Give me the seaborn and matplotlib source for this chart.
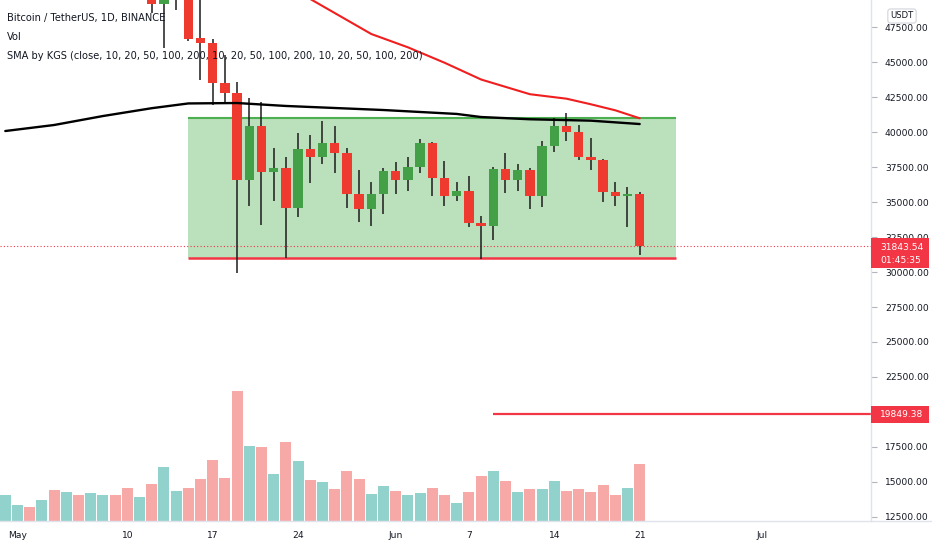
import pandas as pd
import seaborn as sns
import matplotlib.pyplot as plt
import numpy as np
from matplotlib import font_manager
from matplotlib.patches import Rectangle
from matplotlib.lines import Line2D

# daily candles, BTC/USDT (values above the view are estimates)
dates = pd.date_range("2021-04-30", "2021-06-21", freq="D")

opens = [53570, 57690, 57830, 56580, 57170, 53200, 57440, 56390, 57310, 58860,
         58240, 55820, 56670, 49150, 49720, 49880, 46700, 46360, 43500, 42790,
         36570, 40450, 37140, 37410, 34590, 38760, 38240, 39240, 38480, 35570,
         34480, 35570, 37210, 36570, 37480, 39240, 36740, 35430, 35810, 33480,
         33310, 37360, 36570, 37290, 35430, 39000, 40450, 40020, 38240, 38000,
         35740, 35430, 35550]
highs = [58000, 58450, 57950, 58950, 57200, 57960, 58360, 58650, 59500, 59300,
         59600, 56900, 58000, 51370, 51540, 50700, 49850, 46640, 45500, 43590,
         42430, 42140, 38860, 38190, 39930, 39790, 40790, 40430, 38880, 37290,
         36450, 37450, 37880, 38240, 39480, 39300, 37930, 36450, 36860, 34000,
         37520, 38480, 37690, 37410, 39380, 40980, 41340, 40500, 39550, 38100,
         36450, 36090, 35740]
lows = [53000, 57050, 56030, 56480, 53050, 52900, 55200, 55250, 56950, 56250,
        53400, 54370, 48500, 46000, 48700, 46500, 43700, 41930, 42140, 29930,
        34710, 33360, 35090, 30980, 33950, 36380, 37690, 37050, 34550, 33550,
        33310, 34120, 35570, 35790, 37050, 35430, 34710, 35090, 33240, 30910,
        32290, 35660, 35810, 34480, 34620, 38590, 39380, 38000, 37290, 35020,
        34710, 33240, 31210]
closes = [57690, 57830, 56580, 57170, 53200, 57440, 56390, 57310, 58860, 58240,
          55820, 56670, 49150, 49720, 49880, 46640, 46360, 43500, 42790, 36570,
          40450, 37140, 37410, 34590, 38760, 38240, 39240, 38480, 35570, 34480,
          35570, 37210, 36570, 37480, 39240, 36740, 35430, 35810, 33480, 33310,
          37360, 36570, 37290, 35430, 39000, 40450, 40020, 38240, 38000, 35740,
          35430, 35550, 31844]
# volume in thousand BTC
volume = [54, 33, 29, 44, 64, 60, 54, 58, 54, 54,
          69, 50, 77, 112, 62, 69, 87, 127, 89, 270,
          156, 154, 98, 164, 125, 85, 81, 67, 104, 87,
          56, 73, 62, 54, 58, 69, 54, 37, 60, 94,
          104, 83, 60, 67, 67, 83, 62, 67, 60, 75,
          54, 69, 119]

# moving averages read at a few dates
sma_slow_dates = ["2021-04-30", "2021-05-04", "2021-05-08", "2021-05-12", "2021-05-15",
                  "2021-05-19", "2021-05-23", "2021-05-31", "2021-06-06", "2021-06-08",
                  "2021-06-12", "2021-06-17", "2021-06-21"]
sma_slow = [40070, 40500, 41140, 41700, 42040, 42070, 41860, 41570, 41290, 41070,
            40910, 40810, 40570]
sma_fast_dates = ["2021-05-24", "2021-05-25", "2021-05-30", "2021-06-02", "2021-06-05",
                  "2021-06-08", "2021-06-12", "2021-06-15", "2021-06-17", "2021-06-19",
                  "2021-06-21"]
sma_fast = [50000, 49500, 47000, 46050, 44950, 43750, 42700, 42380, 41980, 41550, 40980]

range_start, range_end = "2021-05-15", "2021-06-24"
range_top, range_bottom = 41000, 31000
target_start = "2021-06-09"
target_price = 19849.38
last_price = 31843.54
countdown = "01:45:35"

price_ticks = [12500, 15000, 17500, 20000, 22500, 25000, 27500, 30000, 32500,
               35000, 37500, 40000, 42500, 45000, 47500]
date_ticks = ["2021-05-01", "2021-05-10", "2021-05-17", "2021-05-24", "2021-06-01",
              "2021-06-07", "2021-06-14", "2021-06-21", "2021-07-01"]
date_labels = ["May", "10", "17", "24", "Jun", "7", "14", "21", "Jul"]

RED = "#ef3b2f"
GREEN = "#43a047"
TEAL_V = "#92d2cc"
PINK_V = "#f7a9a7"
LINE_RED = "#f23645"
TXT = "#131722"
W, H = 932, 550


def day(d):
    return (pd.Timestamp(d) - dates[0]).days


df = pd.DataFrame({"i": np.arange(len(dates)), "open": opens, "high": highs,
                   "low": lows, "close": closes, "volume": volume})
df["dir"] = np.where(df["close"] >= df["open"], "up", "down")

sns.set_style("white")
names = {f.name for f in font_manager.fontManager.ttflist}
narrow = "Liberation Sans Narrow" in names
plt.rcParams["font.family"] = ["Liberation Sans Narrow", "DejaVu Sans"] if narrow else ["DejaVu Sans"]
fs_tick = 8.5 if narrow else 6.6
fs_title = 9.3 if narrow else 7.1

fig = plt.figure(figsize=(W / 100, H / 100), dpi=100)
fig.patch.set_facecolor("white")
ax = fig.add_axes([0, 29 / H, 871 / W, 521 / H])
axv = ax.twinx()
ax.set_zorder(2)
axv.set_zorder(1)
ax.patch.set_visible(False)

# volume
sns.barplot(data=df, x="i", y="volume", hue="dir", palette={"up": TEAL_V, "down": PINK_V},
            dodge=False, native_scale=True, width=0.9, saturation=1, errorbar=None,
            legend=False, linewidth=0, ax=axv)
axv.set_ylim(0, 1082)
axv.set_yticks([])
axv.set_ylabel("")
axv.set_xlabel("")
for s in axv.spines.values():
    s.set_visible(False)

# range box
x0, x1 = day(range_start), day(range_end)
ax.add_patch(Rectangle((x0, range_bottom), x1 - x0, range_top - range_bottom,
                       facecolor="#4caf50", alpha=0.38, edgecolor="none", zorder=1))
ax.hlines(range_top, x0, x1, color="#4caf50", lw=1.5, zorder=1.5)
ax.hlines(range_bottom, x0, x1, color=LINE_RED, lw=1.8, zorder=1.5)

# candles
ax.vlines(df["i"], df["low"], df["high"], color="#1c1c1c", lw=1.1, zorder=2.5)
body_lo = np.minimum(df["open"], df["close"])
body_h = np.maximum((df["close"] - df["open"]).abs(), 70)
cols = [GREEN if d == "up" else RED for d in df["dir"]]
ax.bar(df["i"], body_h, bottom=body_lo, width=0.78, color=cols, linewidth=0, zorder=3)

# moving averages
sns.lineplot(x=[day(d) for d in sma_slow_dates], y=sma_slow, color="black", lw=1.7,
             ax=ax, zorder=4)
sns.lineplot(x=[day(d) for d in sma_fast_dates], y=sma_fast, color="#f01e1e", lw=1.5,
             ax=ax, zorder=4)

# price lines
ax.axhline(last_price, color=LINE_RED, lw=0.8, ls=(0, (1, 2)), zorder=1.2)
ax.hlines(target_price, day(target_start), 80, color=LINE_RED, lw=1.6, zorder=2)

ax.set_xlim(-0.434, 70.96)
ax.set_ylim(12214, 49429)

ax.yaxis.tick_right()
ax.set_yticks(price_ticks)
# the 20000 label sits fully under the target price box
ax.set_yticklabels(["" if v == 20000 else f"{v:.2f}" for v in price_ticks])
ax.set_xticks([day(d) for d in date_ticks])
ax.set_xticklabels(date_labels)
ax.tick_params(axis="both", labelsize=fs_tick, labelcolor=TXT, color="#b2b5be",
               length=4, width=0.8, direction="out")
ax.tick_params(axis="y", pad=6)
ax.tick_params(axis="x", pad=3)
ax.set_xlabel("")
ax.set_ylabel("")
ax.grid(False)
for k in ["left", "top"]:
    ax.spines[k].set_visible(False)
for k in ["right", "bottom"]:
    ax.spines[k].set_color("#e0e3eb")
    ax.spines[k].set_linewidth(1)
fig.add_artist(Line2D([871 / W, 1], [29 / H, 29 / H], color="#e0e3eb", lw=1))


# price label boxes on the axis, placed in figure pixels
def py(price):
    return ax.transData.transform((0, price))[1]


def label_box(y_top, y_bot):
    fig.add_artist(Rectangle((871 / W, y_bot / H), (929 - 871) / W, (y_top - y_bot) / H,
                             transform=fig.transFigure, facecolor=LINE_RED,
                             edgecolor="none", zorder=20))


yl = py(last_price)
label_box(yl + 8, yl - 22)
fig.text(880 / W, (yl - 1.5) / H, f"{last_price:.2f}", fontsize=fs_tick, color="white",
         ha="left", va="center", zorder=21)
fig.text(880 / W, (yl - 14.5) / H, countdown, fontsize=fs_tick, color="white",
         ha="left", va="center", zorder=21)
yt = py(target_price)
label_box(yt + 8.5, yt - 8.5)
fig.text(880 / W, yt / H, f"{target_price:.2f}", fontsize=fs_tick, color="white",
         ha="left", va="center", zorder=21)

fig.text(902 / W, 1 - 16 / H, "USDT", ha="center", va="center", fontsize=fs_tick - 0.5,
         color=TXT, bbox=dict(boxstyle="round,pad=0.3", fc="white", ec="#d1d4dc", lw=0.8),
         zorder=10)

# legend lines top left
fig.text(7 / W, 1 - 18 / H, "Bitcoin / TetherUS, 1D, BINANCE", fontsize=fs_title,
         color=TXT, va="center", zorder=10)
fig.text(7 / W, 1 - 37 / H, "Vol", fontsize=fs_title, color=TXT, va="center", zorder=10)
fig.text(7 / W, 1 - 56 / H,
         "SMA by KGS (close, 10, 20, 50, 100, 200, 10, 20, 50, 100, 200, 10, 20, 50, 100, 200)",
         fontsize=fs_title, color=TXT, va="center", zorder=10)

fig.savefig("out.png", dpi=100, facecolor="white")
